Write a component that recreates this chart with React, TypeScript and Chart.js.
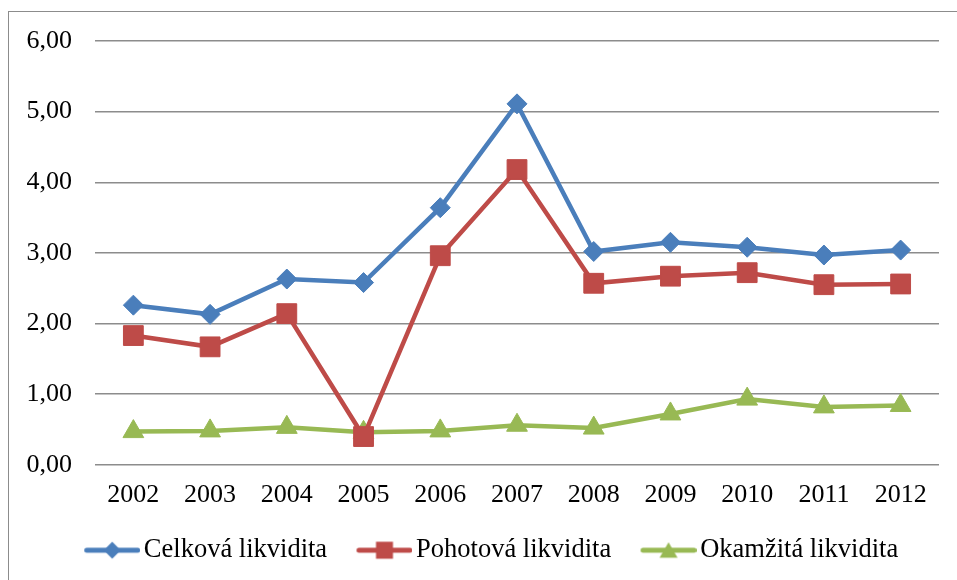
import React, { useEffect, useRef } from "react";
import { Chart, registerables } from "chart.js";

Chart.register(...registerables);

const years = ["2002", "2003", "2004", "2005", "2006", "2007", "2008", "2009", "2010", "2011", "2012"];
const celkova = [2.26, 2.13, 2.63, 2.58, 3.64, 5.11, 3.02, 3.15, 3.08, 2.97, 3.04];
const pohotova = [1.83, 1.67, 2.14, 0.4, 2.96, 4.18, 2.57, 2.67, 2.72, 2.55, 2.56];
const okamzita = [0.47, 0.48, 0.53, 0.46, 0.48, 0.56, 0.52, 0.72, 0.93, 0.82, 0.84];
const seriesNames = ["Celková likvidita", "Pohotová likvidita", "Okamžitá likvidita"];
const seriesColors = ["#4a7ebb", "#be4b48", "#98b954"];

const FONT = "'Liberation Serif', 'Times New Roman', serif";

// Legend swatch: a short line with the series marker in its middle.
// The image carries a transparent margin on the left so that the line
// starts a little to the right of the item's box and ends near the text.
function legendSwatch(color: string, shape: string): HTMLCanvasElement {
  const c = document.createElement("canvas");
  c.width = 83;
  c.height = 20;
  const ctx = c.getContext("2d")!;
  const cy = 10;
  const x0 = 27;
  const x1 = 83;
  ctx.strokeStyle = color;
  ctx.fillStyle = color;
  ctx.lineWidth = 5;
  ctx.lineCap = "round";
  ctx.beginPath();
  ctx.moveTo(x0 + 2.5, cy);
  ctx.lineTo(x1 - 2.5, cy);
  ctx.stroke();
  const cx = (x0 + x1) / 2;
  ctx.beginPath();
  if (shape === "rectRot") {
    ctx.moveTo(cx - 8.5, cy);
    ctx.lineTo(cx, cy - 8.5);
    ctx.lineTo(cx + 8.5, cy);
    ctx.lineTo(cx, cy + 8.5);
  } else if (shape === "rect") {
    ctx.rect(cx - 8.5, cy - 8.5, 17, 17);
  } else {
    ctx.moveTo(cx, cy - 8);
    ctx.lineTo(cx + 9, cy + 7.5);
    ctx.lineTo(cx - 9, cy + 7.5);
  }
  ctx.closePath();
  ctx.fill();
  return c;
}

// Centre the legend under the frame rather than under the whole canvas.
const legendShift = {
  id: "legendShift",
  afterLayout(chart: any) {
    if (chart.legend) chart.legend.left = 26;
  },
};

export default function App() {
  const ref = useRef<HTMLCanvasElement>(null);

  useEffect(() => {
    if (!ref.current) return;
    const shapes = ["rectRot", "rect", "triangle"];
    const radii = [10, 14, 12];
    const values = [celkova, pohotova, okamzita];
    const swatches = shapes.map((s, i) => legendSwatch(seriesColors[i], s));

    const chart = new Chart(ref.current, {
      type: "line",
      data: {
        labels: years,
        datasets: values.map((v, i) => ({
          label: seriesNames[i],
          data: v,
          borderColor: seriesColors[i],
          backgroundColor: seriesColors[i],
          borderWidth: 4.5,
          pointStyle: shapes[i] as any,
          pointRadius: radii[i],
          pointBorderWidth: 1,
          pointBackgroundColor: seriesColors[i],
          pointBorderColor: seriesColors[i],
          tension: 0,
        })),
      },
      plugins: [legendShift],
      options: {
        animation: false,
        responsive: false,
        maintainAspectRatio: false,
        layout: { padding: { left: 0, right: 18, top: 41, bottom: 6.5 } },
        plugins: {
          tooltip: { enabled: false },
          legend: {
            position: "bottom",
            labels: {
              usePointStyle: true,
              pointStyleWidth: 63.75,
              padding: 12,
              color: "#000",
              font: { family: FONT, size: 26.5 },
              generateLabels: (ch: any) =>
                ch.data.datasets.map((d: any, i: number) => ({
                  text: d.label,
                  pointStyle: swatches[i],
                  fillStyle: seriesColors[i],
                  strokeStyle: seriesColors[i],
                  lineWidth: 0,
                  fontColor: "#000",
                  hidden: false,
                  datasetIndex: i,
                })),
            },
          },
        },
        scales: {
          x: {
            offset: true,
            grid: { display: false, drawTicks: false },
            border: { display: false },
            ticks: { color: "#000", font: { family: FONT, size: 26 }, padding: 14.5, maxRotation: 0 },
          },
          y: {
            min: 0,
            max: 6,
            afterFit: (s: any) => {
              s.width = 95;
            },
            grid: { color: "#8c8c8c", lineWidth: 1.5, drawTicks: false },
            border: { display: false },
            ticks: {
              stepSize: 1,
              padding: 23,
              color: "#000",
              font: { family: FONT, size: 26 },
              callback: (v: any) => Number(v).toFixed(2).replace(".", ","),
            },
          },
        },
      },
    });
    return () => chart.destroy();
  }, []);

  return (
    <div
      style={{
        position: "fixed",
        left: 0,
        top: 0,
        width: 957,
        height: 580,
        overflow: "hidden",
        background: "#fff",
      }}
    >
      <div
        style={{
          position: "absolute",
          left: 8,
          top: 11,
          width: 1000,
          height: 1000,
          border: "1.5px solid #8c8c8c",
          boxSizing: "border-box",
        }}
      />
      <canvas ref={ref} width={957} height={580} style={{ position: "absolute", left: 0, top: 0 }} />
    </div>
  );
}
